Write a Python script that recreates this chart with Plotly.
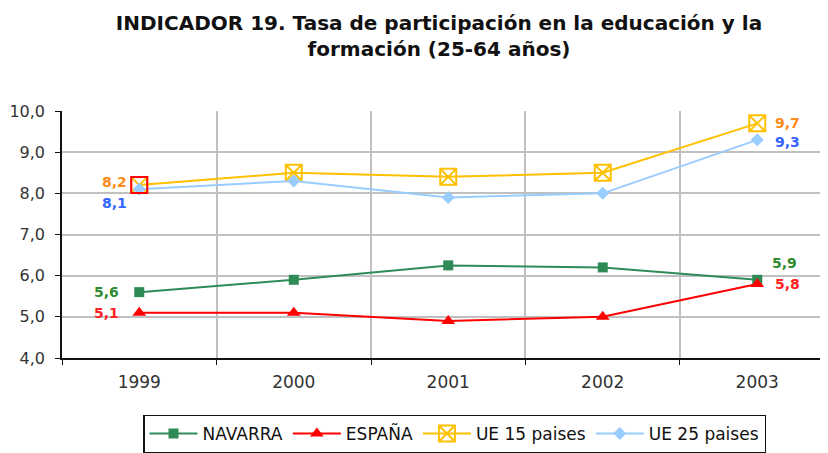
import plotly.graph_objects as go

years = ["1999", "2000", "2001", "2002", "2003"]
navarra = [5.6, 5.9, 6.25, 6.2, 5.9]
espana = [5.1, 5.1, 4.9, 5.0, 5.8]
ue15 = [8.2, 8.5, 8.4, 8.5, 9.7]
ue25 = [8.1, 8.3, 7.9, 8.0, 9.3]
y_ticks = [4, 5, 6, 7, 8, 9, 10]
y_ticktext = ["4,0", "5,0", "6,0", "7,0", "8,0", "9,0", "10,0"]

FONT = "DejaVu Sans, Liberation Sans, Arial, sans-serif"

series = [
    dict(name="NAVARRA", y=navarra, color="#2E8B57", lab="#2E8B2E",
         marker=dict(symbol="square", size=10, color="#2E8B57")),
    dict(name="ESPAÑA", y=espana, color="#FF0000", lab="#FF2020",
         marker=dict(symbol="triangle-up", size=12, color="#FF0000")),
    dict(name="UE 15 paises", y=ue15, color="#FFC000", lab="#FF8C1A",
         marker=dict(symbol="square-x-open", size=16, color="#FFC000",
                     line=dict(width=2))),
    dict(name="UE 25 paises", y=ue25, color="#99CCFF", lab="#3366FF",
         marker=dict(symbol="diamond", size=10, color="#99CCFF")),
]

fig = go.Figure()
for s in series:
    fig.add_trace(go.Scatter(
        x=years, y=s["y"], name=s["name"], mode="lines+markers",
        line=dict(color=s["color"], width=2),
        marker=s["marker"],
    ))

# first UE-15 point is highlighted with a red outline in the original
fig.add_trace(go.Scatter(
    x=years[:1], y=ue15[:1], mode="markers", showlegend=False, hoverinfo="skip",
    marker=dict(symbol="square-open", size=16, color="#FF0000", line=dict(width=2)),
))

# label offsets (pixels) for first and last points
offsets = {
    "NAVARRA": [(-18, 0, "right"), (13, 17, "left")],
    "ESPAÑA": [(-18, 0, "right"), (16, 0, "left")],
    "UE 15 paises": [(-10, 3, "right"), (16, 0, "left")],
    "UE 25 paises": [(-10, -14, "right"), (16, -2, "left")],
}
annotations = []
for s in series:
    for idx, (dx, dy, anc) in zip([0, 4], offsets[s["name"]]):
        v = s["y"][idx]
        annotations.append(dict(
            x=idx, y=v, xref="x", yref="y",
            text=f"{v:.1f}".replace(".", ","), showarrow=False,
            xanchor=anc, yanchor="middle", xshift=dx, yshift=dy,
            font=dict(family=FONT, size=14, color=s["lab"], weight="bold"),
        ))

fig.update_layout(
    width=820, height=445,
    margin=dict(l=54, r=0, t=103, b=95, autoexpand=False),
    paper_bgcolor="white", plot_bgcolor="white",
    font=dict(family=FONT, size=16, color="#333333"),
    title=dict(
        text="INDICADOR 19. Tasa de participación en la educación y la<br>formación (25-64 años)",
        x=431 / 820, xanchor="center", y=0.9505, yanchor="top",
        font=dict(family=FONT, size=20, color="#111111", weight="bold"),
    ),
    xaxis=dict(
        type="category", range=[-0.5, 4.458], tickson="boundaries",
        showgrid=True, gridcolor="#C0C0C0", gridwidth=1.5,
        showline=True, linecolor="#111111", linewidth=1.5,
        ticks="outside", ticklen=5, tickcolor="#111111",
        tickfont=dict(family=FONT, size=17, color="#333333"),
        ticklabelstandoff=8,
    ),
    yaxis=dict(
        range=[4, 10], tickvals=y_ticks, ticktext=y_ticktext,
        showgrid=True, gridcolor="#C0C0C0", gridwidth=1.5,
        showline=True, linecolor="#111111", linewidth=1.5,
        ticks="outside", ticklen=5, tickcolor="#111111",
        tickfont=dict(family=FONT, size=16, color="#333333"),
        ticklabelstandoff=7,
        zeroline=False,
    ),
    legend=dict(
        orientation="h", x=(135 - 54) / 766, xanchor="left",
        y=-(426 - 350) / 247, yanchor="middle",
        bordercolor="#111111", borderwidth=1.5, bgcolor="white",
        font=dict(family=FONT, size=17, color="#111111"),
        itemwidth=48, tracegroupgap=0,
    ),
    annotations=annotations,
    showlegend=True,
)

fig.write_html("out.html")
